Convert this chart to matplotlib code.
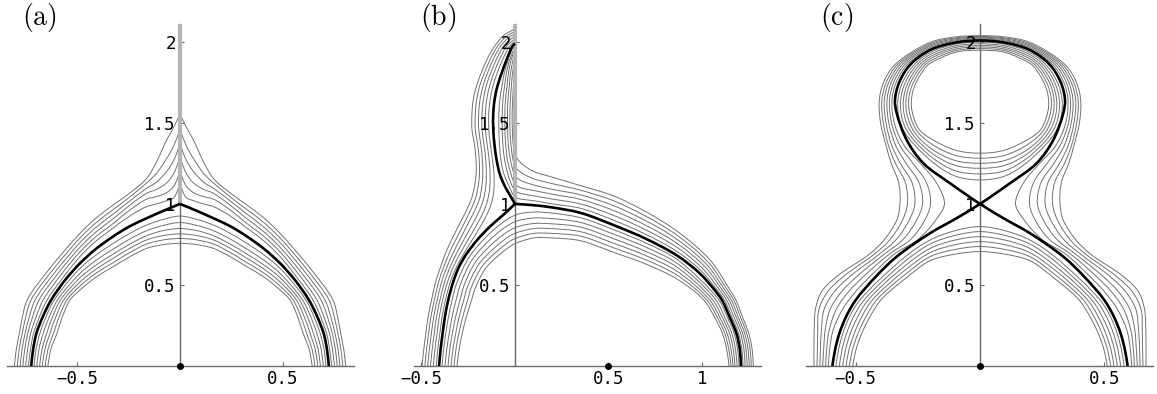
import matplotlib
matplotlib.use("Agg")
import matplotlib.pyplot as plt
from matplotlib.path import Path
from matplotlib.patches import PathPatch

plt.rcParams['mathtext.fontset'] = 'cm'

# ---------------- data ----------------
# station tables: ('x', X, [Y of each curve]) / ('y', Y, [X of each curve]) / ('p', None, [(X, Y) of each curve])

# panel (a): right half, mirrored about x = 0
A_BLACK = [(0, 1.0), (0.08, 0.958), (0.162, 0.912), (0.245, 0.862), (0.325, 0.80), (0.41, 0.722),
           (0.487, 0.634), (0.56, 0.53), (0.628, 0.407), (0.67, 0.30), (0.70, 0.2), (0.716, 0.1), (0.725, 0)]
A_INNER = [
    ('x', 0.0, [0.925, 0.885, 0.848, 0.815, 0.787, 0.757]),
    ('x', 0.08, [0.905, 0.868, 0.836, 0.805, 0.778, 0.749]),
    ('x', 0.162, [0.870, 0.835, 0.804, 0.778, 0.753, 0.726]),
    ('x', 0.245, [0.818, 0.783, 0.752, 0.726, 0.700, 0.674]),
    ('x', 0.325, [0.757, 0.722, 0.691, 0.665, 0.638, 0.613]),
    ('x', 0.41, [0.684, 0.651, 0.622, 0.597, 0.572, 0.548]),
    ('x', 0.487, [0.603, 0.572, 0.545, 0.519, 0.494, 0.469]),
    ('y', 0.407, [0.613, 0.597, 0.582, 0.567, 0.551, 0.536]),
    ('y', 0.3, [0.654, 0.638, 0.622, 0.606, 0.590, 0.574]),
    ('y', 0.2, [0.683, 0.667, 0.650, 0.634, 0.617, 0.600]),
    ('y', 0.1, [0.702, 0.688, 0.673, 0.659, 0.644, 0.630]),
    ('y', 0.0, [0.711, 0.698, 0.684, 0.671, 0.657, 0.644]),
]
A_OUTER = [
    ('x', 0.0, [1.12, 1.20, 1.285, 1.37, 1.46, 1.555]),
    ('x', 0.03, [1.04, 1.11, 1.19, 1.27, 1.36, 1.475]),
    ('x', 0.065, [1.02, 1.07, 1.13, 1.20, 1.28, 1.395]),
    ('x', 0.114, [1.0, 1.045, 1.09, 1.135, 1.19, 1.261]),
    ('x', 0.162, [0.984, 1.03, 1.066, 1.097, 1.13, 1.158]),
    ('x', 0.245, [0.925, 0.962, 0.992, 1.018, 1.043, 1.067]),
    ('x', 0.325, [0.852, 0.880, 0.909, 0.938, 0.966, 0.994]),
    ('x', 0.41, [0.770, 0.798, 0.826, 0.855, 0.883, 0.912]),
    ('x', 0.487, [0.676, 0.705, 0.733, 0.762, 0.790, 0.819]),
    ('p', None, [(0.572, 0.542), (0.585, 0.554), (0.597, 0.567), (0.609, 0.579), (0.621, 0.591), (0.634, 0.603)]),
    ('y', 0.407, [0.648, 0.667, 0.687, 0.706, 0.726, 0.745]),
    ('y', 0.3, [0.686, 0.702, 0.719, 0.735, 0.752, 0.768]),
    ('y', 0.2, [0.714, 0.728, 0.742, 0.755, 0.769, 0.783]),
    ('y', 0.1, [0.729, 0.743, 0.757, 0.770, 0.784, 0.798]),
    ('y', 0.0, [0.739, 0.752, 0.766, 0.779, 0.793, 0.807]),
]
A_CUT = (1.0, 2.11)
A_DOT = (0.0, 0.0)

# panel (b)
B_BLACK_L = [(0, 1.0), (-0.06, 0.935), (-0.134, 0.86), (-0.2, 0.78), (-0.26, 0.69), (-0.30, 0.61), (-0.33, 0.52),
             (-0.357, 0.407), (-0.375, 0.3), (-0.387, 0.2), (-0.398, 0.1), (-0.406, 0)]
B_BLACK_U = [(0, 1.0), (-0.025, 1.05), (-0.053, 1.107), (-0.08, 1.18), (-0.098, 1.27), (-0.11, 1.37), (-0.116, 1.46),
             (-0.116, 1.56), (-0.108, 1.65), (-0.093, 1.73), (-0.071, 1.807), (-0.045, 1.89), (-0.014, 1.971), (0, 1.99)]
B_BLACK_R = [(0, 1.0), (0.1, 0.992), (0.2, 0.978), (0.35, 0.945), (0.526, 0.87), (0.7, 0.785), (0.869, 0.68),
             (0.985, 0.575), (1.06, 0.48), (1.107, 0.407), (1.149, 0.3), (1.185, 0.2), (1.203, 0.1), (1.209, 0)]
B_INNER = [
    ('y', 0.0, [-0.39, -0.374, -0.358, -0.342, -0.326, -0.31]),
    ('y', 0.1, [-0.382, -0.365, -0.349, -0.332, -0.316, -0.299]),
    ('y', 0.2, [-0.37, -0.352, -0.335, -0.317, -0.30, -0.282]),
    ('y', 0.3, [-0.356, -0.337, -0.318, -0.299, -0.28, -0.261]),
    ('y', 0.407, [-0.336, -0.315, -0.294, -0.274, -0.253, -0.232]),
    ('p', None, [(-0.311, 0.513), (-0.291, 0.505), (-0.272, 0.498), (-0.253, 0.491), (-0.234, 0.483), (-0.214, 0.476)]),
    ('p', None, [(-0.242, 0.676), (-0.225, 0.662), (-0.207, 0.648), (-0.189, 0.634), (-0.172, 0.620), (-0.154, 0.607)]),
    ('p', None, [(-0.116, 0.838), (-0.098, 0.816), (-0.08, 0.795), (-0.062, 0.775), (-0.045, 0.755), (-0.03, 0.735)]),
    ('x', 0.0, [0.93, 0.89, 0.853, 0.818, 0.786, 0.755]),
    ('x', 0.1, [0.95, 0.913, 0.879, 0.848, 0.818, 0.79]),
    ('x', 0.2, [0.943, 0.909, 0.877, 0.847, 0.818, 0.79]),
    ('x', 0.35, [0.915, 0.886, 0.857, 0.829, 0.801, 0.773]),
    ('x', 0.526, [0.842, 0.814, 0.786, 0.758, 0.730, 0.702]),
    ('x', 0.7, [0.759, 0.733, 0.707, 0.681, 0.655, 0.629]),
    ('x', 0.869, [0.656, 0.632, 0.608, 0.583, 0.559, 0.535]),
    ('y', 0.407, [1.091, 1.075, 1.058, 1.042, 1.026, 1.01]),
    ('y', 0.3, [1.136, 1.122, 1.109, 1.095, 1.082, 1.068]),
    ('y', 0.2, [1.173, 1.16, 1.148, 1.135, 1.123, 1.11]),
    ('y', 0.1, [1.191, 1.18, 1.168, 1.156, 1.144, 1.133]),
    ('y', 0.0, [1.199, 1.188, 1.177, 1.167, 1.156, 1.145]),
]
B_OUTER_R = [
    ('x', 0.0, [1.04, 1.08, 1.12, 1.17, 1.23, 1.30]),
    ('x', 0.03, [1.03, 1.065, 1.10, 1.145, 1.195, 1.255]),
    ('x', 0.1, [1.02, 1.05, 1.083, 1.117, 1.155, 1.20]),
    ('x', 0.2, [1.0, 1.03, 1.06, 1.09, 1.125, 1.165]),
    ('x', 0.35, [0.973, 1.0, 1.028, 1.056, 1.085, 1.113]),
    ('x', 0.526, [0.90, 0.93, 0.96, 0.99, 1.02, 1.05]),
    ('x', 0.7, [0.812, 0.84, 0.868, 0.896, 0.924, 0.952]),
    ('x', 0.869, [0.705, 0.73, 0.755, 0.78, 0.805, 0.83]),
    ('p', None, [(0.995, 0.588), (1.005, 0.60), (1.016, 0.613), (1.026, 0.625), (1.036, 0.638), (1.046, 0.651)]),
    ('y', 0.48, [1.074, 1.088, 1.102, 1.116, 1.13, 1.144]),
    ('y', 0.407, [1.12, 1.132, 1.145, 1.157, 1.17, 1.182]),
    ('y', 0.3, [1.161, 1.172, 1.184, 1.195, 1.207, 1.218]),
    ('y', 0.2, [1.196, 1.207, 1.218, 1.229, 1.24, 1.251]),
    ('y', 0.1, [1.214, 1.225, 1.236, 1.247, 1.258, 1.269]),
    ('y', 0.0, [1.22, 1.231, 1.242, 1.253, 1.264, 1.275]),
]
B_OUTER_L = [
    ('y', 0.0, [-0.421, -0.437, -0.452, -0.467, -0.482, -0.497]),
    ('y', 0.1, [-0.413, -0.428, -0.443, -0.458, -0.473, -0.488]),
    ('y', 0.2, [-0.402, -0.417, -0.432, -0.447, -0.462, -0.477]),
    ('y', 0.3, [-0.39, -0.405, -0.42, -0.435, -0.45, -0.465]),
    ('y', 0.407, [-0.372, -0.387, -0.401, -0.416, -0.431, -0.446]),
    ('y', 0.52, [-0.345, -0.36, -0.376, -0.392, -0.408, -0.424]),
    ('y', 0.61, [-0.313, -0.33, -0.347, -0.364, -0.381, -0.398]),
    ('y', 0.70, [-0.27, -0.29, -0.31, -0.33, -0.35, -0.37]),
    ('y', 0.79, [-0.222, -0.245, -0.268, -0.29, -0.312, -0.334]),
    ('y', 0.88, [-0.175, -0.20, -0.225, -0.25, -0.272, -0.295]),
    ('y', 0.96, [-0.14, -0.165, -0.19, -0.215, -0.238, -0.26]),
    ('y', 1.03, [-0.12, -0.145, -0.168, -0.19, -0.212, -0.233]),
    ('y', 1.10, [-0.112, -0.135, -0.157, -0.178, -0.198, -0.218]),
    ('y', 1.18, [-0.112, -0.133, -0.153, -0.172, -0.19, -0.208]),
    ('y', 1.27, [-0.12, -0.138, -0.156, -0.174, -0.191, -0.208]),
    ('y', 1.37, [-0.132, -0.149, -0.166, -0.183, -0.20, -0.217]),
    ('y', 1.46, [-0.14, -0.158, -0.176, -0.194, -0.212, -0.23]),
    ('y', 1.56, [-0.14, -0.158, -0.176, -0.194, -0.212, -0.23]),
    ('y', 1.65, [-0.132, -0.15, -0.168, -0.186, -0.204, -0.222]),
    ('y', 1.73, [-0.117, -0.135, -0.153, -0.17, -0.188, -0.205]),
    ('y', 1.807, [-0.095, -0.113, -0.13, -0.147, -0.164, -0.181]),
    ('y', 1.89, [-0.066, -0.083, -0.10, -0.117, -0.133, -0.15]),
    ('y', 1.971, [-0.03, -0.046, -0.062, -0.078, -0.094, -0.11]),
    ('p', None, [(0, 2.005), (-0.02, 2.0), (-0.03, 2.01), (-0.04, 2.02), (-0.05, 2.03), (-0.06, 2.04)]),
    ('p', None, [None, (0, 2.02), (0, 2.035), (0, 2.05), (0, 2.065), (0, 2.08)]),
]
B_LOBE = [
    [(0, 1.04), (-0.012, 1.06), (-0.03, 1.107), (-0.058, 1.18), (-0.075, 1.27), (-0.083, 1.37), (-0.086, 1.46),
     (-0.086, 1.56), (-0.08, 1.65), (-0.069, 1.73), (-0.057, 1.807), (-0.036, 1.89), (-0.008, 1.975), (0, 1.985)],
    [(0, 1.08), (-0.015, 1.11), (-0.037, 1.18), (-0.055, 1.27), (-0.065, 1.37), (-0.068, 1.46), (-0.068, 1.56),
     (-0.064, 1.65), (-0.055, 1.73), (-0.046, 1.807), (-0.028, 1.89), (0, 1.97)],
    [(0, 1.12), (-0.012, 1.15), (-0.025, 1.20), (-0.04, 1.27), (-0.05, 1.37), (-0.0535, 1.46), (-0.054, 1.56),
     (-0.05, 1.65), (-0.042, 1.73), (-0.035, 1.807), (-0.02, 1.89), (0, 1.955)],
    [(0, 1.17), (-0.012, 1.21), (-0.027, 1.29), (-0.036, 1.37), (-0.039, 1.46), (-0.04, 1.56), (-0.037, 1.65),
     (-0.03, 1.73), (-0.024, 1.807), (-0.012, 1.88), (0, 1.94)],
    [(0, 1.23), (-0.01, 1.27), (-0.02, 1.35), (-0.027, 1.46), (-0.027, 1.56), (-0.024, 1.65), (-0.019, 1.73),
     (-0.013, 1.807), (0, 1.92)],
    [(0, 1.30), (-0.008, 1.35), (-0.014, 1.46), (-0.015, 1.56), (-0.012, 1.65), (-0.008, 1.73), (0, 1.85)],
]
B_CUT = (1.0, 2.11)
B_DOT = (0.5, 0.0)

# panel (c): right half, mirrored about x = 0
C_BLACK_LOW = [(0, 1.0), (0.094, 0.912), (0.2, 0.82), (0.335, 0.675), (0.42, 0.55), (0.5, 0.407), (0.54, 0.3),
               (0.566, 0.2), (0.583, 0.1), (0.594, 0)]
C_BLACK_UP = [(0, 1.0), (0.121, 1.128), (0.228, 1.251), (0.295, 1.395), (0.335, 1.56), (0.342, 1.64),
              (0.325, 1.75), (0.28, 1.86), (0.2, 1.95), (0.1, 1.995), (0, 2.008)]
C_OUTER = [
    ('x', 0.0, [2.013, 2.018, 2.023, 2.028, 2.033, 2.038]),
    ('x', 0.1, [2.0, 2.006, 2.012, 2.018, 2.024, 2.03]),
    ('x', 0.2, [1.957, 1.965, 1.973, 1.981, 1.989, 1.997]),
    ('y', 1.86, [0.292, 0.302, 0.312, 0.322, 0.332, 0.342]),
    ('y', 1.75, [0.337, 0.347, 0.357, 0.367, 0.377, 0.388]),
    ('y', 1.64, [0.354, 0.364, 0.374, 0.385, 0.395, 0.405]),
    ('y', 1.5, [0.345, 0.356, 0.367, 0.378, 0.389, 0.40]),
    ('y', 1.36, [0.305, 0.322, 0.339, 0.355, 0.368, 0.378]),
    ('y', 1.25, [0.24, 0.27, 0.297, 0.32, 0.34, 0.357]),
    ('y', 1.13, [0.175, 0.215, 0.245, 0.273, 0.300, 0.327]),
    ('y', 1.0, [0.143, 0.199, 0.231, 0.262, 0.292, 0.322]),
    ('y', 0.9, [0.178, 0.222, 0.255, 0.285, 0.312, 0.335]),
    ('y', 0.78, [0.25, 0.28, 0.31, 0.337, 0.362, 0.385]),
    ('y', 0.69, [0.345, 0.365, 0.385, 0.405, 0.425, 0.445]),
    ('y', 0.56, [0.437, 0.463, 0.49, 0.517, 0.543, 0.57]),
    ('y', 0.46, [0.50, 0.528, 0.556, 0.585, 0.612, 0.637]),
    ('y', 0.35, [0.553, 0.578, 0.603, 0.627, 0.648, 0.662]),
    ('y', 0.22, [0.591, 0.607, 0.623, 0.638, 0.653, 0.667]),
    ('y', 0.1, [0.605, 0.617, 0.629, 0.642, 0.654, 0.668]),
    ('y', 0.0, [0.61, 0.621, 0.633, 0.644, 0.656, 0.668]),
]
C_LOOPS = [
    ('x', 0.0, [1.148, 1.185, 1.22, 1.251, 1.282, 1.313]),
    ('x', 0.1, [1.172, 1.205, 1.238, 1.268, 1.30, 1.332]),
    ('x', 0.2, [1.27, 1.295, 1.32, 1.345, 1.375, 1.405]),
    ('y', 1.46, [0.31, 0.297, 0.284, 0.271, 0.258, 0.245]),
    ('y', 1.6, [0.331, 0.32, 0.309, 0.298, 0.287, 0.276]),
    ('y', 1.724, [0.318, 0.307, 0.296, 0.286, 0.275, 0.264]),
    ('y', 1.85, [0.27, 0.259, 0.248, 0.237, 0.226, 0.215]),
    ('x', 0.2, [1.935, 1.922, 1.909, 1.896, 1.882, 1.868]),
    ('x', 0.1, [1.985, 1.975, 1.965, 1.955, 1.945, 1.935]),
    ('x', 0.0, [1.998, 1.988, 1.978, 1.968, 1.958, 1.948]),
]
C_INNER = [
    ('x', 0.0, [0.86, 0.829, 0.798, 0.767, 0.737, 0.706]),
    ('x', 0.1, [0.835, 0.806, 0.777, 0.748, 0.719, 0.69]),
    ('x', 0.2, [0.778, 0.753, 0.726, 0.700, 0.675, 0.650]),
    ('x', 0.3, [0.675, 0.648, 0.62, 0.593, 0.566, 0.54]),
    ('y', 0.407, [0.483, 0.466, 0.45, 0.433, 0.416, 0.399]),
    ('y', 0.3, [0.526, 0.510, 0.493, 0.477, 0.460, 0.444]),
    ('y', 0.2, [0.552, 0.537, 0.522, 0.506, 0.491, 0.476]),
    ('y', 0.1, [0.569, 0.555, 0.541, 0.527, 0.513, 0.499]),
    ('y', 0.0, [0.580, 0.566, 0.553, 0.539, 0.526, 0.512]),
]
C_DOT = (0.0, 0.0)

Y_TICKS = [0.5, 1, 1.5, 2]
X_TICKS_A = [-0.5, 0.5]
X_TICKS_B = [-0.5, 0.5, 1]
X_TICKS_C = [-0.5, 0.5]
PANEL_LABELS = ['(a)', '(b)', '(c)']

# ---------------- drawing ----------------
THIN = dict(edgecolor='#707070', lw=0.7, fill=False, joinstyle='round')
THICK = dict(edgecolor='black', lw=1.9, fill=False, joinstyle='round', zorder=4)


def build(stations):
    curves = [[] for _ in range(6)]
    for kind, val, vals in stations:
        for i, v in enumerate(vals):
            if v is None:
                continue
            if kind == 'x':
                curves[i].append((val, v))
            elif kind == 'y':
                curves[i].append((v, val))
            else:
                curves[i].append(v)
    return curves


def mirror(pts):
    return [(-x, y) for x, y in pts]


def joined(right):
    # whole curve through x = 0: mirrored left half + right half
    return mirror(right[::-1]) + right[1:]


def smooth_path(pts, sx, sy, closed=False):
    # centripetal Catmull-Rom through the read points, drawn as cubic Bezier pieces
    P = [(x, y) for x, y in pts]
    n = len(P)
    if closed:
        ext = [P[-2]] + P + [P[1]]
    else:
        first = (2 * P[0][0] - P[1][0], 2 * P[0][1] - P[1][1])
        last = (2 * P[-1][0] - P[-2][0], 2 * P[-1][1] - P[-2][1])
        ext = [first] + P + [last]

    def d(a, b):
        return (((a[0] - b[0]) * sx) ** 2 + ((a[1] - b[1]) * sy) ** 2) ** 0.25

    verts = [P[0]]
    codes = [Path.MOVETO]
    for i in range(1, n):
        p0, p1, p2, p3 = ext[i - 1], ext[i], ext[i + 1], ext[i + 2]
        d1, d2, d3 = d(p0, p1), d(p1, p2), d(p2, p3)
        if d2 == 0:
            continue
        if d1 == 0:
            b1 = p1
        else:
            b1 = tuple((d1 * d1 * p2[k] - d2 * d2 * p0[k] + (2 * d1 * d1 + 3 * d1 * d2 + d2 * d2) * p1[k])
                       / (3 * d1 * (d1 + d2)) for k in range(2))
        if d3 == 0:
            b2 = p2
        else:
            b2 = tuple((d3 * d3 * p1[k] - d2 * d2 * p3[k] + (2 * d3 * d3 + 3 * d3 * d2 + d2 * d2) * p2[k])
                       / (3 * d3 * (d3 + d2)) for k in range(2))
        verts += [b1, b2, p2]
        codes += [Path.CURVE4] * 3
    return Path(verts, codes)


def draw(ax, pts, scale, closed=False, **kw):
    ax.add_patch(PathPatch(smooth_path(pts, scale[0], scale[1], closed), **kw))


def fmt(v):
    s = ('%g' % abs(v))
    return ('\u2212' + s) if v < 0 else s


def setup(ax, xlim, xticks):
    ax.set_xlim(*xlim)
    ax.set_ylim(0, 2.11)
    for s in ['top', 'right']:
        ax.spines[s].set_visible(False)
    ax.spines['left'].set_position(('data', 0))
    ax.spines['bottom'].set_position(('data', 0))
    for s in ['left', 'bottom']:
        ax.spines[s].set_color('#6a6a6a')
        ax.spines[s].set_linewidth(1.0)
        ax.spines[s].set_zorder(1)
    ax.set_xticks(xticks)
    ax.set_xticklabels([fmt(v) for v in xticks])
    ax.set_yticks(Y_TICKS)
    ax.set_yticklabels([fmt(v) for v in Y_TICKS])
    ax.tick_params(direction='in', length=3, width=0.8, color='#6a6a6a', pad=3,
                   labelsize=12.5, labelfontfamily='DejaVu Sans Mono')
    ax.patch.set_visible(False)


fig = plt.figure(figsize=(11.57, 3.94), dpi=100)
W, H = 1157.0, 394.0


def add_axes(left_px):
    return fig.add_axes([left_px / W, 28 / H, 347 / W, 342 / H])


# (a)  pixels per data unit: 205.3 across, 162 up
SA = (205.3, 162.0)
ax = add_axes(7)
setup(ax, (-0.843, 0.8475), X_TICKS_A)
for c in build(A_INNER):
    draw(ax, joined(c), SA, **THIN)
for c in build(A_OUTER):
    draw(ax, c, SA, **THIN)
    draw(ax, mirror(c), SA, **THIN)
draw(ax, A_BLACK, SA, **THICK)
draw(ax, mirror(A_BLACK), SA, **THICK)
ax.plot([0, 0], A_CUT, color='#b4b4b4', lw=3.0, solid_capstyle='butt', zorder=3)
ax.plot(*A_DOT, 'o', color='black', ms=4, zorder=6, clip_on=False)

# (b)
SB = (187.0, 162.0)
ax = add_axes(414)
setup(ax, (-0.54, 1.316), X_TICKS_B)
for c in build(B_INNER) + build(B_OUTER_R) + build(B_OUTER_L) + B_LOBE:
    draw(ax, c, SB, **THIN)
for c in [B_BLACK_L, B_BLACK_U, B_BLACK_R]:
    draw(ax, c, SB, **THICK)
ax.plot([0, 0], B_CUT, color='#b4b4b4', lw=3.0, solid_capstyle='butt', zorder=3)
ax.plot(*B_DOT, 'o', color='black', ms=4, zorder=6, clip_on=False)

# (c)
SC = (248.6, 162.0)
ax = add_axes(806)
setup(ax, (-0.70, 0.696), X_TICKS_C)
for c in build(C_OUTER) + build(C_INNER):
    draw(ax, joined(c), SC, **THIN)
for c in build(C_LOOPS):
    draw(ax, c + mirror(c[::-1])[1:], SC, closed=True, **THIN)
# figure-eight: lower-left arm -> crossing -> upper-right arm -> top -> upper-left arm -> crossing -> lower-right arm
eight = mirror(C_BLACK_LOW[::-1]) + C_BLACK_UP[1:] + mirror(C_BLACK_UP[::-1])[1:] + C_BLACK_LOW[1:]
draw(ax, eight, SC, **THICK)
ax.plot(*C_DOT, 'o', color='black', ms=4, zorder=6, clip_on=False)

for lab, x_px in zip(PANEL_LABELS, [22, 420, 820]):
    fig.text(x_px / W, 1 - 18 / H, r'$\mathrm{%s}$' % lab, ha='left', va='center', fontsize=20)

fig.savefig('out.png', dpi=100)
